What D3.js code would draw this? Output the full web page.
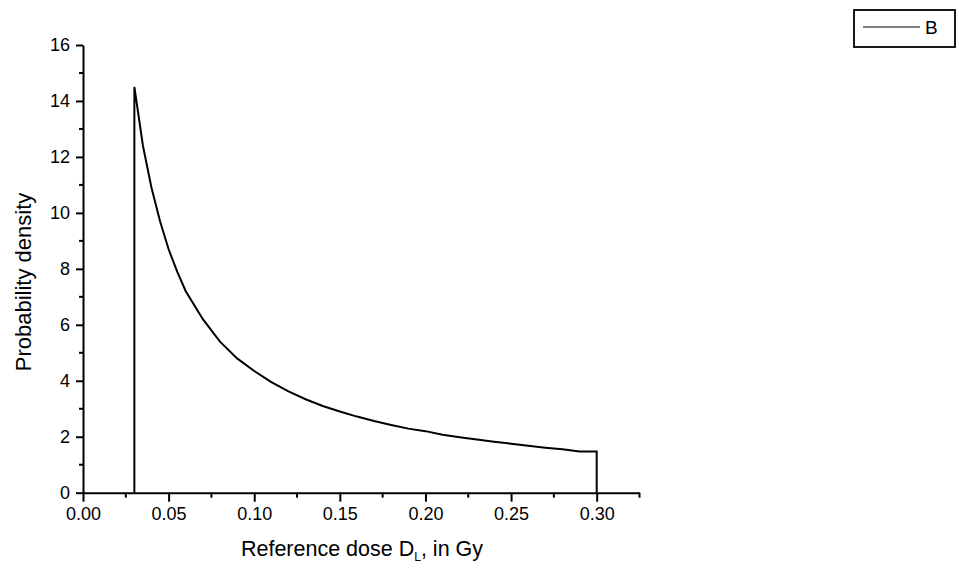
<!DOCTYPE html>
<html><head><meta charset="utf-8">
<script src="https://cdn.jsdelivr.net/npm/d3@7"></script>
<style>body{margin:0;background:#fff}svg{display:block}text{font-family:"Liberation Sans",Arial,sans-serif;fill:#000}</style>
</head><body><svg id="c" width="959" height="572"></svg>
<script>
const doseX = [0.030,0.030,0.035,0.040,0.045,0.050,0.055,0.060,0.070,0.080,0.090,0.100,0.110,0.120,0.130,0.140,0.150,0.160,0.170,0.180,0.190,0.200,0.210,0.220,0.230,0.240,0.250,0.260,0.270,0.280,0.290,0.300,0.300];
const densityY = [0,14.5,12.4,10.9,9.7,8.7,7.9,7.2,6.2,5.4,4.8,4.35,3.95,3.62,3.34,3.10,2.90,2.72,2.56,2.42,2.29,2.20,2.07,1.98,1.90,1.82,1.75,1.68,1.61,1.55,1.47,1.47,0];
const xTicks = [0,0.05,0.10,0.15,0.20,0.25,0.30];
const yTicks = [0,2,4,6,8,10,12,14,16];
const seriesName = "B";

const svg = d3.select("#c");
const x = d3.scaleLinear().domain([0,0.325]).range([83,639.5]);
const y = d3.scaleLinear().domain([0,16]).range([492.7,45]);

// minor ticks
const xMinor = d3.range(0.025,0.326,0.05);
const yMinor = d3.range(1,16,2);
svg.append("g").selectAll("line").data(xMinor).join("line")
  .attr("x1",d=>x(d)).attr("x2",d=>x(d)).attr("y1",y(0)).attr("y2",y(0)+5)
  .attr("stroke","#000").attr("stroke-width",2);
svg.append("g").selectAll("line").data(yMinor).join("line")
  .attr("x1",x(0)).attr("x2",x(0)-4).attr("y1",d=>y(d)).attr("y2",d=>y(d))
  .attr("stroke","#000").attr("stroke-width",2);

const xAxis = svg.append("g").attr("transform",`translate(0,${y(0)})`)
  .call(d3.axisBottom(x).tickValues(xTicks).tickFormat(d3.format(".2f")).tickSizeInner(9).tickSizeOuter(0).tickPadding(6));
const yAxis = svg.append("g").attr("transform",`translate(${x(0)},0)`)
  .call(d3.axisLeft(y).tickValues(yTicks).tickFormat(d3.format("d")).tickSizeInner(7).tickSizeOuter(0).tickPadding(6));
[xAxis,yAxis].forEach(g=>{
  g.select(".domain").attr("stroke","#000").attr("stroke-width",2);
  g.selectAll(".tick line").attr("stroke","#000").attr("stroke-width",2);
  g.selectAll(".tick text").attr("font-size",18).attr("font-family","Liberation Sans, Arial, sans-serif").attr("fill","#000");
});

const line = d3.line().x((d,i)=>x(doseX[i])).y(d=>y(d));
svg.append("path").datum(densityY).attr("d",line)
  .attr("fill","none").attr("stroke","#000").attr("stroke-width",2);

// axis titles
const xt = svg.append("text").attr("x",362).attr("y",556).attr("text-anchor","middle").attr("font-size",21.5);
xt.append("tspan").text("Reference dose D");
xt.append("tspan").attr("font-size",12).attr("dy",5).text("L");
xt.append("tspan").attr("dy",-5).text(", in Gy");

svg.append("text").attr("transform","translate(31,282) rotate(-90)").attr("text-anchor","middle")
  .attr("font-size",22).text("Probability density");

// legend
svg.append("rect").attr("x",854).attr("y",10).attr("width",101).attr("height",37)
  .attr("fill","none").attr("stroke","#000").attr("stroke-width",1.8);
svg.append("line").attr("x1",863).attr("x2",920).attr("y1",27).attr("y2",27).attr("stroke","#000").attr("stroke-width",1.2);
svg.append("text").attr("x",925).attr("y",34).attr("font-size",19).text(seriesName);
</script></body></html>
